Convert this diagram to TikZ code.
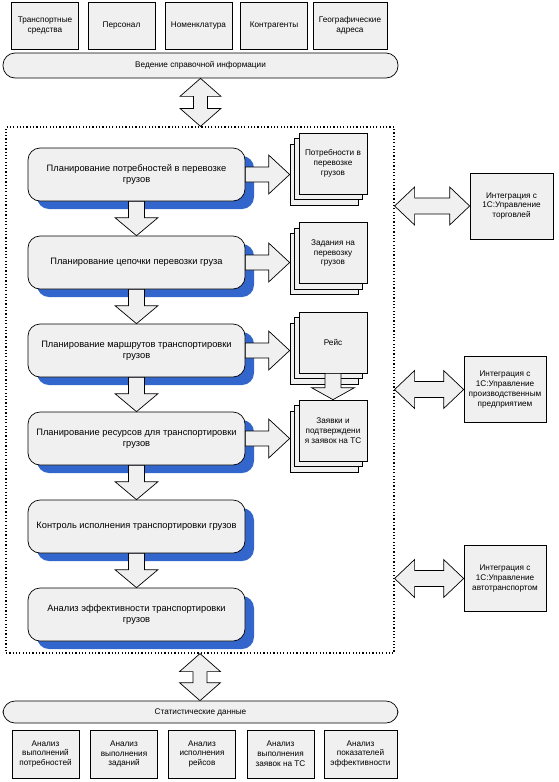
\documentclass[tikz,border=0pt]{standalone}
\usepackage{fontspec}
\setmainfont{Liberation Sans}
\usetikzlibrary{calc,shadows}

\definecolor{boxgray}{HTML}{F0F0F0}
\definecolor{shblue}{HTML}{3366CC}

% fat arrows between nodes
\newcommand{\arrowdown}[3][18pt]{\draw[fatarrow] let \p1=#2, \p2=#3 in
  (\x1-8pt,\y1) -- (\x1+8pt,\y1) -- (\x1+8pt,\y2+#1) -- (\x1+21.5pt,\y2+#1) -- (\x1,\y2)
  -- (\x1-21.5pt,\y2+#1) -- (\x1-8pt,\y2+#1) -- cycle;}
\newcommand{\arrowright}[2]{\draw[fatarrow] let \p1=#1, \p2=#2 in
  (\x1,\y1+7.5pt) -- (\x2-21pt,\y1+7.5pt) -- (\x2-21pt,\y1+19.5pt) -- (\x2,\y1)
  -- (\x2-21pt,\y1-19.5pt) -- (\x2-21pt,\y1-7.5pt) -- (\x1,\y1-7.5pt) -- cycle;}
\newcommand{\arrowboth}[2]{\draw[fatarrow] let \p1=#1, \p2=#2 in
  (\x1,\y1) -- (\x1+20.5pt,\y1-18pt) -- (\x1+7pt,\y1-18pt) -- (\x1+7pt,\y2+18pt)
  -- (\x1+20.5pt,\y2+18pt) -- (\x1,\y2) -- (\x1-20.5pt,\y2+18pt) -- (\x1-7pt,\y2+18pt)
  -- (\x1-7pt,\y1-18pt) -- (\x1-20.5pt,\y1-18pt) -- cycle;}
\newcommand{\arrowsides}[2]{\draw[fatarrow] let \p1=#1, \p2=#2 in
  (\x1,\y1) -- (\x1+20pt,\y1+19pt) -- (\x1+20pt,\y1+8pt) -- (\x2-20pt,\y1+8pt)
  -- (\x2-20pt,\y1+19pt) -- (\x2,\y1) -- (\x2-20pt,\y1-19pt) -- (\x2-20pt,\y1-8pt)
  -- (\x1+20pt,\y1-8pt) -- (\x1+20pt,\y1-19pt) -- cycle;}

\begin{document}
\begin{tikzpicture}[x=1pt,y=-1pt,font=\fontsize{8.2}{9.8}\selectfont]
        \tikzstyle{refbox} = [rectangle, draw=black, fill=boxgray, line width=0.7pt, minimum width=67pt, minimum height=47pt, align=center, inner sep=1pt]
        \tikzstyle{bar} = [rectangle, rounded corners=12pt, draw=black, fill=boxgray, line width=0.7pt, minimum width=395pt, inner sep=0pt]
        \tikzstyle{proc} = [rectangle, rounded corners=12pt, draw=black, fill=boxgray, line width=0.7pt, minimum width=217pt, minimum height=53pt, align=center, font=\fontsize{9.3}{11}\selectfont, node distance=88pt, drop shadow={shadow xshift=9pt, shadow yshift=-8pt, fill=shblue, opacity=1}]
        \tikzstyle{doc} = [rectangle, draw=black, fill=boxgray, line width=0.7pt, minimum width=68pt, minimum height=61pt, align=center, inner sep=1pt, node distance=196.5pt, double copy shadow={shadow xshift=-4.5pt, shadow yshift=-5.5pt}]
        \tikzstyle{integ} = [rectangle, draw=black, fill=boxgray, line width=0.7pt, minimum width=82pt, minimum height=66pt, align=center, inner sep=1pt]
        \tikzstyle{fatarrow} = [draw=black, fill=boxgray, line width=0.7pt, line join=miter]

                \useasboundingbox (0,0) rectangle (558,782);

                % reference data
                \node (ts) [refbox] at (45,25.5) {Транспортные\\средства};
                \node (staff) [refbox, node distance=76.5pt, right of=ts] {Персонал};
                \node (nom) [refbox, node distance=77pt, right of=staff] {Номенклатура};
                \node (partners) [refbox, node distance=75.5pt, right of=nom] {Контрагенты};
                \node (geo) [refbox, node distance=76pt, right of=partners, minimum width=74pt] {Географические\\адреса};
                \node (spr) [bar, minimum height=25pt] at (200.5,65.5) {Ведение справочной информации};

                % planning frame
                \node (frame) [draw, line width=1.2pt, dash pattern=on 1.2pt off 2.1pt, minimum width=388pt, minimum height=526pt, inner sep=0pt] at (200,390) {};

                \node (b1) [proc] at (136.5,174.5) {Планирование потребностей в перевозке\\грузов};
                \node (b2) [proc, below of=b1] {Планирование цепочки перевозки груза};
                \node (b3) [proc, below of=b2] {Планирование маршрутов транспортировки\\грузов};
                \node (b4) [proc, below of=b3] {Планирование ресурсов для транспортировки\\грузов};
                \node (b5) [proc, below of=b4] {Контроль исполнения транспортировки грузов};
                \node (b6) [proc, below of=b5] {Анализ эффективности транспортировки\\грузов};

                \node (d1) [doc, right of=b1, yshift=11pt] {Потребности в\\перевозке\\грузов};
                \node (d2) [doc, right of=b2, yshift=9.5pt] {Задания на\\перевозку\\грузов};
                \node (d3) [doc, right of=b3, yshift=8pt] {Рейс};
                \node (d4) [doc, right of=b4, yshift=8pt] {Заявки и\\подтверждени\\я заявок на ТС};

                % integration
                \node (i1) [integ, minimum width=83pt] at (511.5,206) {Интеграция с\\1С:Управление\\торговлей};
                \node (i2) [integ] at (505,389.5) {Интеграция с\\1С:Управление\\производственным\\предприятием};
                \node (i3) [integ] at (505,578.5) {Интеграция с\\1С:Управление\\автотранспортом};

                % statistics
                \node (stat) [bar, minimum height=22pt] at (200.5,712) {Статистические данные};
                \node (a1) [refbox, minimum height=48pt] at (45.5,754) {Анализ\\выполнений\\потребностей};
                \node (a2) [refbox, minimum height=48pt, node distance=78.5pt, right of=a1] {Анализ\\выполнения\\заданий};
                \node (a3) [refbox, minimum height=48pt, node distance=78pt, right of=a2] {Анализ\\исполнения\\рейсов};
                \node (a4) [refbox, minimum height=48pt, node distance=78.5pt, right of=a3] {Анализ\\выполнения\\заявок на ТС};
                \node (a5) [refbox, minimum height=48pt, node distance=80pt, right of=a4, minimum width=73pt] {Анализ\\показателей\\эффективности};

                \arrowdown{(b1.south)}{(b2.north)}
                \arrowdown{(b2.south)}{(b3.north)}
                \arrowdown{(b3.south)}{(b4.north)}
                \arrowdown{(b4.south)}{(b5.north)}
                \arrowdown{(b5.south)}{(b6.north)}
                \arrowdown[12pt]{(d3.south)}{(d4.north)}

                \arrowright{(b1.east)}{([xshift=-9pt]d1.west)}
                \arrowright{(b2.east)}{([xshift=-9pt]d2.west)}
                \arrowright{(b3.east)}{([xshift=-9pt]d3.west)}
                \arrowright{(b4.east)}{([xshift=-9pt]d4.west)}

                \arrowboth{(spr.south)}{(frame.north)}
                \arrowboth{(frame.south)}{(stat.north)}

                \arrowsides{(frame.east |- i1.west)}{(i1.west)}
                \arrowsides{(frame.east |- i2.west)}{(i2.west)}
                \arrowsides{(frame.east |- i3.west)}{(i3.west)}
    \end{tikzpicture}
\end{document}
